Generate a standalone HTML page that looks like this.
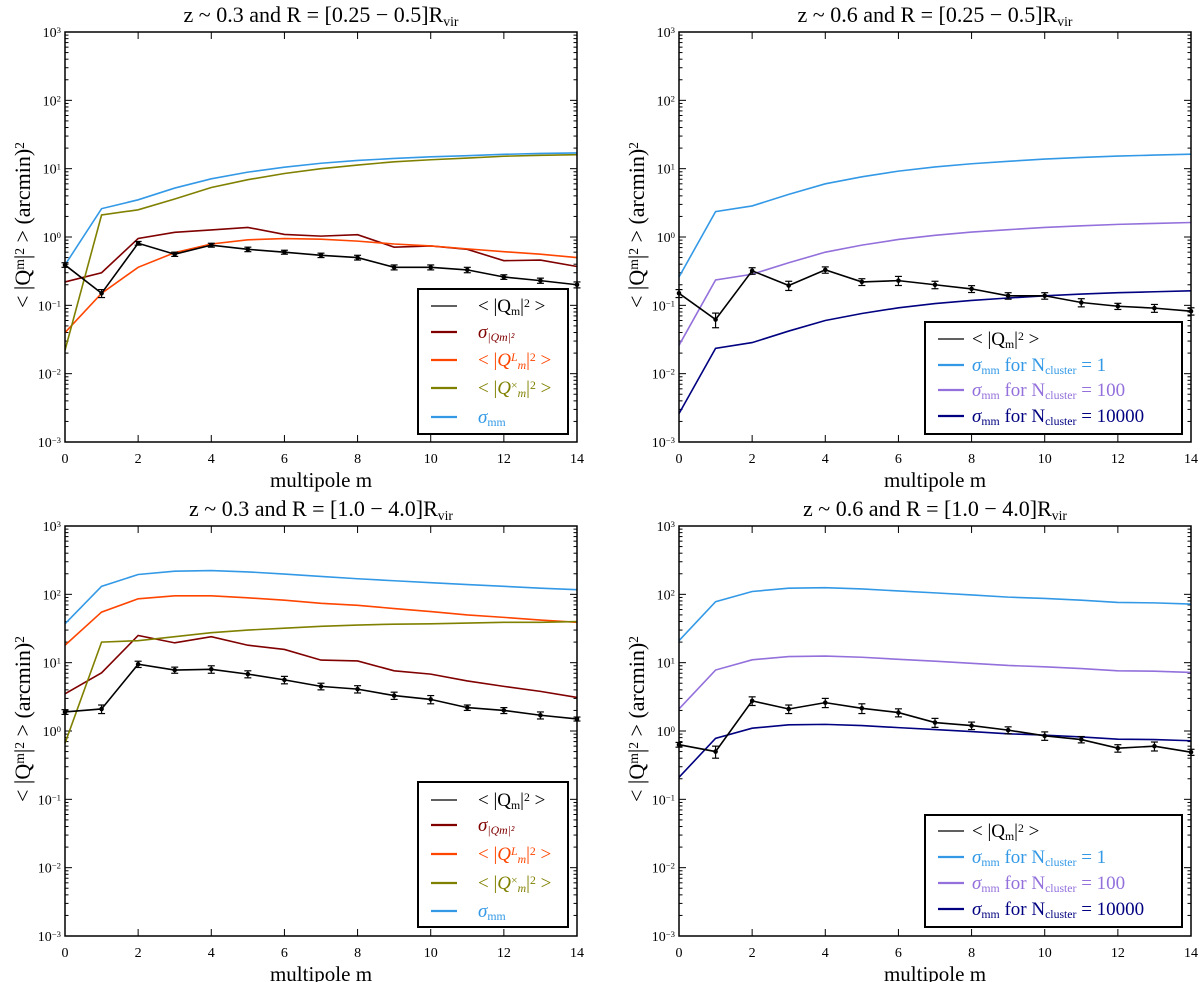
<!DOCTYPE html>
<html><head><meta charset="utf-8"><style>
html,body{margin:0;padding:0;background:#fff;}
svg{display:block;font-family:"Liberation Serif","DejaVu Serif",serif;}
</style></head><body>
<svg id="fig" width="1200" height="982" viewBox="0 0 1200 982" xmlns="http://www.w3.org/2000/svg"></svg>
<script>
// ---- data ----
const mVals = [0,1,2,3,4,5,6,7,8,9,10,11,12,13,14];
const tickLabelsX = ["0","2","4","6","8","10","12","14"];
const decadeExps = [-3,-2,-1,0,1,2,3];

// panel A: z~0.3, R=[0.25-0.5]
const aQm   = [0.39,0.15,0.81,0.56,0.76,0.66,0.60,0.54,0.50,0.36,0.36,0.33,0.26,0.23,0.20];
const aQmErr= [0.03,0.02,0.05,0.04,0.05,0.05,0.04,0.04,0.04,0.03,0.03,0.03,0.02,0.02,0.02];
const aSig  = [0.22,0.30,0.95,1.17,1.27,1.38,1.09,1.03,1.08,0.71,0.74,0.66,0.45,0.46,0.37];
const aQL   = [0.04,0.15,0.36,0.59,0.79,0.91,0.95,0.93,0.87,0.79,0.74,0.67,0.61,0.56,0.50];
const aQX   = [0.022,2.1,2.5,3.6,5.3,6.9,8.5,10,11.3,12.6,13.5,14.3,15.2,15.7,16];
const aSmm  = [0.39,2.6,3.5,5.2,7.1,8.9,10.5,12,13.2,14.1,14.9,15.5,16.2,16.7,17];

// panel B: z~0.6, R=[0.25-0.5]
const bQm   = [0.15,0.062,0.32,0.195,0.33,0.22,0.23,0.20,0.174,0.138,0.138,0.11,0.097,0.091,0.082];
const bQmErr= [0.02,0.015,0.035,0.03,0.035,0.025,0.035,0.025,0.02,0.015,0.015,0.015,0.01,0.012,0.01];
const bN1   = [0.26,2.35,2.85,4.2,6.0,7.6,9.2,10.6,11.8,12.8,13.8,14.6,15.3,15.8,16.3];
const bN100 = [0.026,0.235,0.285,0.42,0.60,0.76,0.92,1.06,1.18,1.28,1.38,1.46,1.53,1.58,1.63];
const bN1e4 = [0.0026,0.0235,0.0285,0.042,0.060,0.076,0.092,0.106,0.118,0.128,0.138,0.146,0.153,0.158,0.163];

// panel C: z~0.3, R=[1.0-4.0]
const cQm   = [1.9,2.1,9.5,7.8,8.0,6.8,5.6,4.5,4.1,3.3,2.9,2.2,2.0,1.7,1.5];
const cQmErr= [0.15,0.3,1.0,0.8,1.0,0.8,0.7,0.5,0.5,0.4,0.4,0.2,0.2,0.2,0.1];
const cSig  = [3.5,7.1,25,19.5,24,18,15.6,10.9,10.6,7.6,6.8,5.4,4.5,3.8,3.1];
const cQL   = [18,55,86,95,95,89,82,74,69,62,56,50,46,42,39];
const cQX   = [0.66,20,21,24,27.5,30,32,34,35.5,36.6,37,38,39,39,40];
const cSmm  = [37,131,195,218,223,213,198,183,169,158,148,139,131,123,117];

// panel D: z~0.6, R=[1.0-4.0]
const dQm   = [0.63,0.50,2.76,2.1,2.6,2.15,1.86,1.33,1.2,1.03,0.85,0.75,0.56,0.60,0.49];
const dQmErr= [0.05,0.1,0.4,0.3,0.4,0.35,0.25,0.2,0.15,0.12,0.12,0.08,0.07,0.09,0.05];
const dN1   = [21,78,110,123,125,120,112,105,98,91,87,82,76,75,72];
const dN100 = [2.1,7.8,11,12.3,12.5,12,11.2,10.5,9.8,9.1,8.7,8.2,7.6,7.5,7.2];
const dN1e4 = [0.21,0.78,1.1,1.23,1.25,1.2,1.12,1.05,0.98,0.91,0.87,0.82,0.76,0.75,0.72];

// ---- drawing ----
const NS="http://www.w3.org/2000/svg";
const fig=document.getElementById('fig');
function el(tag,attrs,parent){const e=document.createElementNS(NS,tag);for(const k in attrs)e.setAttribute(k,attrs[k]);(parent||fig).appendChild(e);return e;}
const C={black:"#000",dred:"#800000",orange:"#ff4500",olive:"#808000",blue:"#3399e6",purple:"#9370db",navy:"#000080"};

function rich(textEl,segs){
  segs.forEach(s=>{
    const ts=document.createElementNS(NS,'tspan');
    const k=s[1]||'n';
    if(k==='sub'){ts.setAttribute('baseline-shift','-28%');ts.setAttribute('font-size','62%');}
    else if(k==='sup'){ts.setAttribute('baseline-shift','40%');ts.setAttribute('font-size','62%');}
    if(s[2])ts.setAttribute('font-style','italic');
    ts.textContent=s[0];
    textEl.appendChild(ts);
  });
}

function panel(cfg){
  const g=el('g',{});
  
  
  const L=cfg.x,T=cfg.y,W=512,H=410;
  const xs=m=>L+m/14*W;
  const ys=v=>T+(3-Math.log10(v))/6*H;
  const t=el('text',{x:L+W/2,y:T-10,'text-anchor':'middle','font-size':22},g);
  
  
  rich(t,cfg.title);
  decadeExps.forEach(e=>{
    const y=ys(Math.pow(10,e));
    el('line',{x1:L,x2:L+7,y1:y,y2:y,stroke:'#000','stroke-width':1},g);
    el('line',{x1:L+W-7,x2:L+W,y1:y,y2:y,stroke:'#000','stroke-width':1},g);
    const lab=el('text',{x:L-4,y:y+5,'text-anchor':'end','font-size':14},g);
    
    
    rich(lab,[['10'],[(e<0?'\u2212'+(-e):String(e)),'sup']]);
    if(e<3){for(let k=2;k<10;k++){const yy=ys(k*Math.pow(10,e));
      el('line',{x1:L,x2:L+3.5,y1:yy,y2:yy,stroke:'#000','stroke-width':1},g);
      el('line',{x1:L+W-3.5,x2:L+W,y1:yy,y2:yy,stroke:'#000','stroke-width':1},g);}}
  });
  tickLabelsX.forEach(s=>{
    const x=xs(+s);
    el('line',{x1:x,x2:x,y1:T+H,y2:T+H-7,stroke:'#000'},g);
    el('line',{x1:x,x2:x,y1:T,y2:T+7,stroke:'#000'},g);
    const lab=el('text',{x:x,y:T+H+21,'text-anchor':'middle','font-size':14},g);
    
    
    lab.textContent=s;
  });
  const xl=el('text',{x:L+W/2,y:T+H+45,'text-anchor':'middle','font-size':21},g);
  
  
  xl.textContent='multipole m';
  const yl=el('text',{x:0,y:0,'text-anchor':'middle','font-size':22,transform:`translate(${L-35},${T+H/2-12}) rotate(-90)`},g);
  
  
  rich(yl,[['< |Q'],['m','sup'],['|'],['2','sup'],[' >   (arcmin)'],['2','sup']]);
  cfg.series.forEach(s=>{
    const p=el('polyline',{points:s.vals.map((v,i)=>xs(mVals[i])+','+ys(v)).join(' '),fill:'none',stroke:s.color,'stroke-width':s.w||1.6},g);
    
    
  });
  cfg.qm.forEach((v,i)=>{
    const x=xs(mVals[i]),e=cfg.err[i];
    const y1=ys(v+e),y2=ys(Math.max(v-e,v*0.3));
    const eb=el('g',{},g);
    
    
    el('line',{x1:x,x2:x,y1:y1,y2:y2,stroke:'#000','stroke-width':1.2},eb);
    el('line',{x1:x-3.5,x2:x+3.5,y1:y1,y2:y1,stroke:'#000','stroke-width':1.2},eb);
    el('line',{x1:x-3.5,x2:x+3.5,y1:y2,y2:y2,stroke:'#000','stroke-width':1.2},eb);
    el('circle',{cx:x,cy:ys(v),r:2.3,fill:'#000'},eb);
  });
  const p=el('polyline',{points:cfg.qm.map((v,i)=>xs(mVals[i])+','+ys(v)).join(' '),fill:'none',stroke:'#000','stroke-width':1.6},g);
  
  
  const fr=el('rect',{x:L,y:T,width:W,height:H,fill:'none',stroke:'#000','stroke-width':1.5},g);
  
  
  const lg=el('g',{},g);
  
  
  const lb=cfg.legend;
  el('rect',{x:lb.x,y:lb.y,width:lb.w,height:lb.h,fill:'#fff',stroke:'#000','stroke-width':2},lg);
  lb.items.forEach((it,i)=>{
    const yy=lb.rows[i];
    const le=el('g',{},lg);
    
    
    el('line',{x1:lb.x+13,x2:lb.x+39,y1:yy,y2:yy,stroke:it.c,'stroke-width':i==0?1.2:2.2},le);
    const tx=el('text',{x:lb.x+lb.tx,y:yy+6,'font-size':19,fill:it.c},le);
    rich(tx,it.t);
  });
  return g;
}
const itemsA=[
 {c:C.black,t:[['< |Q'],['m','sub'],['|'],['2','sup'],[' >']]},
 {c:C.dred,t:[['σ','n',1],['|Qm|²','sub',1]]},
 {c:C.orange,t:[['< |'],['Q','n',1],['L','sup',1],['m','sub',1],['|'],['2','sup'],[' >']]},
 {c:C.olive,t:[['< |'],['Q','n',1],['×','sup'],['m','sub',1],['|'],['2','sup'],[' >']]},
 {c:C.blue,t:[['σ','n',1],['mm','sub']]}];
const itemsB=[
 {c:C.black,t:[['< |Q'],['m','sub'],['|'],['2','sup'],[' >']]},
 {c:C.blue,t:[['σ','n',1],['mm','sub'],[' for N'],['cluster','sub'],[' = 1']]},
 {c:C.purple,t:[['σ','n',1],['mm','sub'],[' for N'],['cluster','sub'],[' = 100']]},
 {c:C.navy,t:[['σ','n',1],['mm','sub'],[' for N'],['cluster','sub'],[' = 10000']]}];

panel({name:'panel-z03-inner',x:65,y:32,title:[['z ~ 0.3 and R = [0.25 − 0.5]R'],['vir','sub']],
 qm:aQm,err:aQmErr,
 series:[{id:'sigma-q-series',vals:aSig,color:C.dred},{id:'qL-series',vals:aQL,color:C.orange},{id:'qX-series',vals:aQX,color:C.olive},{id:'sigma-mm-series',vals:aSmm,color:C.blue}],
 legend:{x:418,y:289,w:150,h:145,tx:60,rows:[306,332,360,388,417],items:itemsA}});
panel({name:'panel-z06-inner',x:679,y:32,title:[['z ~ 0.6 and R = [0.25 − 0.5]R'],['vir','sub']],
 qm:bQm,err:bQmErr,
 series:[{id:'n1-series',vals:bN1,color:C.blue},{id:'n100-series',vals:bN100,color:C.purple},{id:'n10000-series',vals:bN1e4,color:C.navy}],
 legend:{x:925,y:322,w:257,h:112,tx:47,rows:[339,365,390,416],items:itemsB}});
panel({name:'panel-z03-outer',x:65,y:526,title:[['z ~ 0.3 and R = [1.0 − 4.0]R'],['vir','sub']],
 qm:cQm,err:cQmErr,
 series:[{id:'sigma-q-series',vals:cSig,color:C.dred},{id:'qL-series',vals:cQL,color:C.orange},{id:'qX-series',vals:cQX,color:C.olive},{id:'sigma-mm-series',vals:cSmm,color:C.blue}],
 legend:{x:418,y:782,w:150,h:145,tx:60,rows:[800,825,854,883,911],items:itemsA}});
panel({name:'panel-z06-outer',x:679,y:526,title:[['z ~ 0.6 and R = [1.0 − 4.0]R'],['vir','sub']],
 qm:dQm,err:dQmErr,
 series:[{id:'n1-series',vals:dN1,color:C.blue},{id:'n100-series',vals:dN100,color:C.purple},{id:'n10000-series',vals:dN1e4,color:C.navy}],
 legend:{x:925,y:815,w:257,h:112,tx:47,rows:[831,857,883,909],items:itemsB}});
</script>
</body></html>
